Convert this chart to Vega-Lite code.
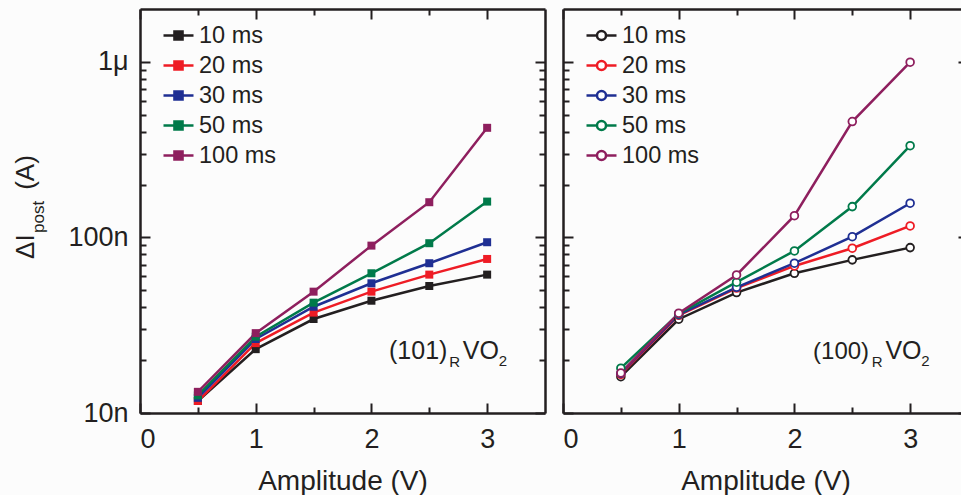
{
  "$schema": "https://vega.github.io/schema/vega-lite/v6.json",
  "background": "#fcfcfc",
  "padding": {"left": 13, "top": 8, "right": 0, "bottom": 0},
  "datasets": {
    "vo2_101": [
      {"pulse": "10 ms", "amp": 0.5, "current": 1.17e-8},
      {"pulse": "10 ms", "amp": 1.0, "current": 2.31e-8},
      {"pulse": "10 ms", "amp": 1.5, "current": 3.43e-8},
      {"pulse": "10 ms", "amp": 2.0, "current": 4.36e-8},
      {"pulse": "10 ms", "amp": 2.5, "current": 5.29e-8},
      {"pulse": "10 ms", "amp": 3.0, "current": 6.14e-8},
      {"pulse": "20 ms", "amp": 0.5, "current": 1.17e-8},
      {"pulse": "20 ms", "amp": 1.0, "current": 2.50e-8},
      {"pulse": "20 ms", "amp": 1.5, "current": 3.73e-8},
      {"pulse": "20 ms", "amp": 2.0, "current": 4.91e-8},
      {"pulse": "20 ms", "amp": 2.5, "current": 6.14e-8},
      {"pulse": "20 ms", "amp": 3.0, "current": 7.54e-8},
      {"pulse": "30 ms", "amp": 0.5, "current": 1.22e-8},
      {"pulse": "30 ms", "amp": 1.0, "current": 2.64e-8},
      {"pulse": "30 ms", "amp": 1.5, "current": 4.03e-8},
      {"pulse": "30 ms", "amp": 2.0, "current": 5.48e-8},
      {"pulse": "30 ms", "amp": 2.5, "current": 7.13e-8},
      {"pulse": "30 ms", "amp": 3.0, "current": 9.39e-8},
      {"pulse": "50 ms", "amp": 0.5, "current": 1.26e-8},
      {"pulse": "50 ms", "amp": 1.0, "current": 2.72e-8},
      {"pulse": "50 ms", "amp": 1.5, "current": 4.25e-8},
      {"pulse": "50 ms", "amp": 2.0, "current": 6.25e-8},
      {"pulse": "50 ms", "amp": 2.5, "current": 9.27e-8},
      {"pulse": "50 ms", "amp": 3.0, "current": 1.60e-7},
      {"pulse": "100 ms", "amp": 0.5, "current": 1.32e-8},
      {"pulse": "100 ms", "amp": 1.0, "current": 2.85e-8},
      {"pulse": "100 ms", "amp": 1.5, "current": 4.91e-8},
      {"pulse": "100 ms", "amp": 2.0, "current": 8.98e-8},
      {"pulse": "100 ms", "amp": 2.5, "current": 1.587e-7},
      {"pulse": "100 ms", "amp": 3.0, "current": 4.21e-7}
    ],
    "vo2_100": [
      {"pulse": "10 ms", "amp": 0.5, "current": 1.61e-8},
      {"pulse": "10 ms", "amp": 1.0, "current": 3.42e-8},
      {"pulse": "10 ms", "amp": 1.5, "current": 4.85e-8},
      {"pulse": "10 ms", "amp": 2.0, "current": 6.25e-8},
      {"pulse": "10 ms", "amp": 2.5, "current": 7.45e-8},
      {"pulse": "10 ms", "amp": 3.0, "current": 8.75e-8},
      {"pulse": "20 ms", "amp": 0.5, "current": 1.66e-8},
      {"pulse": "20 ms", "amp": 1.0, "current": 3.60e-8},
      {"pulse": "20 ms", "amp": 1.5, "current": 5.15e-8},
      {"pulse": "20 ms", "amp": 2.0, "current": 6.88e-8},
      {"pulse": "20 ms", "amp": 2.5, "current": 8.68e-8},
      {"pulse": "20 ms", "amp": 3.0, "current": 1.163e-7},
      {"pulse": "30 ms", "amp": 0.5, "current": 1.68e-8},
      {"pulse": "30 ms", "amp": 1.0, "current": 3.63e-8},
      {"pulse": "30 ms", "amp": 1.5, "current": 5.20e-8},
      {"pulse": "30 ms", "amp": 2.0, "current": 7.13e-8},
      {"pulse": "30 ms", "amp": 2.5, "current": 1.01e-7},
      {"pulse": "30 ms", "amp": 3.0, "current": 1.566e-7},
      {"pulse": "50 ms", "amp": 0.5, "current": 1.80e-8},
      {"pulse": "50 ms", "amp": 1.0, "current": 3.68e-8},
      {"pulse": "50 ms", "amp": 1.5, "current": 5.56e-8},
      {"pulse": "50 ms", "amp": 2.0, "current": 8.38e-8},
      {"pulse": "50 ms", "amp": 2.5, "current": 1.498e-7},
      {"pulse": "50 ms", "amp": 3.0, "current": 3.33e-7},
      {"pulse": "100 ms", "amp": 0.5, "current": 1.69e-8},
      {"pulse": "100 ms", "amp": 1.0, "current": 3.70e-8},
      {"pulse": "100 ms", "amp": 1.5, "current": 6.11e-8},
      {"pulse": "100 ms", "amp": 2.0, "current": 1.33e-7},
      {"pulse": "100 ms", "amp": 2.5, "current": 4.57e-7},
      {"pulse": "100 ms", "amp": 3.0, "current": 9.96e-7}
    ],
    "single": [{}]
  },
  "config": {
    "view": {"stroke": null},
    "font": "Liberation Sans",
    "axis": {
      "grid": false,
      "domainColor": "#231f20",
      "domainWidth": 2.5,
      "tickColor": "#231f20",
      "tickWidth": 2,
      "labelFont": "Liberation Sans",
      "labelFontSize": 27,
      "labelColor": "#231f20",
      "titleFont": "Liberation Sans",
      "titleFontSize": 28,
      "titleFontWeight": "normal",
      "titleColor": "#231f20"
    },
    "legend": {
      "orient": "none",
      "legendX": 22,
      "legendY": 10,
      "title": null,
      "symbolSize": 900,
      "symbolStrokeWidth": 2.5,
      "labelFont": "Liberation Sans",
      "labelFontSize": 23.5,
      "labelColor": "#231f20",
      "labelOffset": 4,
      "rowPadding": 2
    },
    "text": {"font": "Liberation Sans", "color": "#231f20"}
  },
  "resolve": {"scale": {"color": "shared"}, "legend": {"color": "independent"}},
  "spacing": 18,
  "bounds": "flush",
  "hconcat": [
    {
      "width": 405,
      "height": 404,
      "data": {"name": "vo2_101"},
      "resolve": {"axis": {"x": "independent", "y": "independent"}},
      "layer": [
        {
          "mark": {"type": "line", "strokeWidth": 2.5},
          "encoding": {
            "x": {
              "field": "amp", "type": "quantitative",
              "scale": {"domain": [0, 3.5], "nice": false, "zero": false},
              "axis": {"orient": "bottom", "title": "Amplitude (V)", "values": [0, 1, 2, 3], "format": "d", "tickSize": -10, "labelPadding": 23, "titlePadding": 15}
            },
            "y": {
              "field": "current", "type": "quantitative",
              "scale": {"type": "log", "domain": [1e-8, 2e-6], "nice": false},
              "axis": {
                "orient": "left", "title": null, "values": [1e-8, 1e-7, 1e-6],
                "labelExpr": "datum.value == 1e-6 ? '1μ' : datum.value == 1e-7 ? '100n' : '10n'",
                "tickSize": -10, "labelPadding": 22
              }
            },
            "color": {
              "field": "pulse", "type": "nominal",
              "scale": {"domain": ["10 ms", "20 ms", "30 ms", "50 ms", "100 ms"], "range": ["#231f20", "#ee1c25", "#1f2f93", "#007a4a", "#8e1f5e"]},
              "legend": {
                "symbolType": "M-1,0H1M-0.27,-0.27H0.27V0.27H-0.27Z",
                "encode": {"symbols": {"update": {"fill": {"scale": "color", "field": "value"}, "stroke": {"scale": "color", "field": "value"}, "opacity": {"value": 1}}}}
              }
            }
          }
        },
        {
          "mark": {"type": "point", "shape": "square", "filled": true, "size": 64, "opacity": 1},
          "encoding": {
            "x": {
              "field": "amp", "type": "quantitative",
              "scale": {"domain": [0, 3.5], "nice": false, "zero": false},
              "axis": {"orient": "top", "title": null, "labels": false, "values": [0, 1, 2, 3], "tickSize": -10}
            },
            "y": {
              "field": "current", "type": "quantitative",
              "scale": {"type": "log", "domain": [1e-8, 2e-6], "nice": false},
              "axis": {"orient": "right", "title": null, "labels": false, "values": [1e-8, 1e-7, 1e-6], "tickSize": -10}
            },
            "color": {"field": "pulse", "type": "nominal", "legend": null}
          }
        },
        {
          "data": {"name": "single"},
          "mark": {"type": "text", "text": "ΔI", "fontSize": 26, "angle": 270, "align": "left", "baseline": "alphabetic"},
          "encoding": {
            "x": {"datum": -0.916, "axis": null, "scale": {"domain": [0, 3.5], "nice": false, "zero": false}},
            "y": {"datum": 7.54e-8, "axis": null, "scale": {"type": "log", "domain": [1e-8, 2e-6], "nice": false}}
          }
        },
        {
          "data": {"name": "single"},
          "mark": {"type": "text", "text": "post", "fontSize": 17, "angle": 270, "align": "left", "baseline": "alphabetic"},
          "encoding": {
            "x": {"datum": -0.83, "axis": null, "scale": {"domain": [0, 3.5], "nice": false, "zero": false}},
            "y": {"datum": 1.061e-7, "axis": null, "scale": {"type": "log", "domain": [1e-8, 2e-6], "nice": false}}
          }
        },
        {
          "data": {"name": "single"},
          "mark": {"type": "text", "text": "(A)", "fontSize": 26, "angle": 270, "align": "left", "baseline": "alphabetic"},
          "encoding": {
            "x": {"datum": -0.916, "axis": null, "scale": {"domain": [0, 3.5], "nice": false, "zero": false}},
            "y": {"datum": 1.866e-7, "axis": null, "scale": {"type": "log", "domain": [1e-8, 2e-6], "nice": false}}
          }
        },
        {
          "data": {"name": "single"},
          "mark": {"type": "text", "text": "(101)", "fontSize": 25, "align": "left", "baseline": "alphabetic"},
          "encoding": {
            "x": {
              "datum": 2.152, "scale": {"domain": [0, 3.5], "nice": false, "zero": false},
              "axis": {"orient": "bottom", "title": null, "labels": false, "domain": false, "values": [0.5, 1.5, 2.5], "tickSize": -6}
            },
            "y": {
              "datum": 2.031e-8, "scale": {"type": "log", "domain": [1e-8, 2e-6], "nice": false},
              "axis": {"orient": "left", "title": null, "labels": false, "domain": false, "values": [2e-8, 3e-8, 4e-8, 5e-8, 6e-8, 7e-8, 8e-8, 9e-8, 2e-7, 3e-7, 4e-7, 5e-7, 6e-7, 7e-7, 8e-7, 9e-7], "tickSize": -6}
            }
          }
        },
        {
          "data": {"name": "single"},
          "mark": {"type": "text", "text": "R", "fontSize": 15, "align": "left", "baseline": "alphabetic"},
          "encoding": {
            "x": {"datum": 2.672, "axis": null, "scale": {"domain": [0, 3.5], "nice": false, "zero": false}},
            "y": {"datum": 1.829e-8, "axis": null, "scale": {"type": "log", "domain": [1e-8, 2e-6], "nice": false}}
          }
        },
        {
          "data": {"name": "single"},
          "mark": {"type": "text", "text": "VO", "fontSize": 25, "align": "left", "baseline": "alphabetic"},
          "encoding": {
            "x": {
              "datum": 2.79, "scale": {"domain": [0, 3.5], "nice": false, "zero": false},
              "axis": {"orient": "top", "title": null, "labels": false, "domain": false, "values": [0.5, 1.5, 2.5], "tickSize": -6}
            },
            "y": {
              "datum": 2.031e-8, "scale": {"type": "log", "domain": [1e-8, 2e-6], "nice": false},
              "axis": {"orient": "right", "title": null, "labels": false, "domain": false, "values": [2e-8, 3e-8, 4e-8, 5e-8, 6e-8, 7e-8, 8e-8, 9e-8, 2e-7, 3e-7, 4e-7, 5e-7, 6e-7, 7e-7, 8e-7, 9e-7], "tickSize": -6}
            }
          }
        },
        {
          "data": {"name": "single"},
          "mark": {"type": "text", "text": "2", "fontSize": 15, "align": "left", "baseline": "alphabetic"},
          "encoding": {
            "x": {"datum": 3.1, "axis": null, "scale": {"domain": [0, 3.5], "nice": false, "zero": false}},
            "y": {"datum": 1.853e-8, "axis": null, "scale": {"type": "log", "domain": [1e-8, 2e-6], "nice": false}}
          }
        }
      ]
    },
    {
      "width": 405,
      "height": 404,
      "data": {"name": "vo2_100"},
      "resolve": {"axis": {"x": "independent", "y": "independent"}},
      "layer": [
        {
          "mark": {"type": "line", "strokeWidth": 2.5},
          "encoding": {
            "x": {
              "field": "amp", "type": "quantitative",
              "scale": {"domain": [0, 3.5], "nice": false, "zero": false},
              "axis": {"orient": "bottom", "title": "Amplitude (V)", "values": [0, 1, 2, 3], "format": "d", "tickSize": -10, "labelPadding": 23, "titlePadding": 15}
            },
            "y": {
              "field": "current", "type": "quantitative",
              "scale": {"type": "log", "domain": [1e-8, 2e-6], "nice": false},
              "axis": {"orient": "left", "title": null, "labels": false, "values": [1e-8, 1e-7, 1e-6], "tickSize": -10}
            },
            "color": {
              "field": "pulse", "type": "nominal",
              "scale": {"domain": ["10 ms", "20 ms", "30 ms", "50 ms", "100 ms"], "range": ["#231f20", "#ee1c25", "#1f2f93", "#007a4a", "#8e1f5e"]},
              "legend": {
                "symbolType": "M-1,0H-0.3M0.3,0H1M0.3,0A0.3,0.3 0 1,1 -0.3,0A0.3,0.3 0 1,1 0.3,0Z",
                "encode": {"symbols": {"update": {"fill": {"value": "#ffffff"}, "stroke": {"scale": "color", "field": "value"}, "opacity": {"value": 1}}}}
              }
            }
          }
        },
        {
          "mark": {"type": "point", "shape": "circle", "filled": false, "fill": "#ffffff", "fillOpacity": 1, "size": 60, "strokeWidth": 1.8, "opacity": 1},
          "encoding": {
            "x": {
              "field": "amp", "type": "quantitative",
              "scale": {"domain": [0, 3.5], "nice": false, "zero": false},
              "axis": {"orient": "top", "title": null, "labels": false, "values": [0, 1, 2, 3], "tickSize": -10}
            },
            "y": {
              "field": "current", "type": "quantitative",
              "scale": {"type": "log", "domain": [1e-8, 2e-6], "nice": false},
              "axis": {"orient": "right", "title": null, "labels": false, "values": [1e-8, 1e-7, 1e-6], "tickSize": -10}
            },
            "color": {"field": "pulse", "type": "nominal", "legend": null}
          }
        },
        {
          "data": {"name": "single"},
          "mark": {"type": "text", "text": "(100)", "fontSize": 24, "align": "left", "baseline": "alphabetic"},
          "encoding": {
            "x": {
              "datum": 2.161, "scale": {"domain": [0, 3.5], "nice": false, "zero": false},
              "axis": {"orient": "bottom", "title": null, "labels": false, "domain": false, "values": [0.5, 1.5, 2.5], "tickSize": -6}
            },
            "y": {
              "datum": 2.031e-8, "scale": {"type": "log", "domain": [1e-8, 2e-6], "nice": false},
              "axis": {"orient": "left", "title": null, "labels": false, "domain": false, "values": [2e-8, 3e-8, 4e-8, 5e-8, 6e-8, 7e-8, 8e-8, 9e-8, 2e-7, 3e-7, 4e-7, 5e-7, 6e-7, 7e-7, 8e-7, 9e-7], "tickSize": -6}
            }
          }
        },
        {
          "data": {"name": "single"},
          "mark": {"type": "text", "text": "R", "fontSize": 15, "align": "left", "baseline": "alphabetic"},
          "encoding": {
            "x": {"datum": 2.668, "axis": null, "scale": {"domain": [0, 3.5], "nice": false, "zero": false}},
            "y": {"datum": 1.829e-8, "axis": null, "scale": {"type": "log", "domain": [1e-8, 2e-6], "nice": false}}
          }
        },
        {
          "data": {"name": "single"},
          "mark": {"type": "text", "text": "VO", "fontSize": 25, "align": "left", "baseline": "alphabetic"},
          "encoding": {
            "x": {
              "datum": 2.786, "scale": {"domain": [0, 3.5], "nice": false, "zero": false},
              "axis": {"orient": "top", "title": null, "labels": false, "domain": false, "values": [0.5, 1.5, 2.5], "tickSize": -6}
            },
            "y": {
              "datum": 2.031e-8, "scale": {"type": "log", "domain": [1e-8, 2e-6], "nice": false},
              "axis": {"orient": "right", "title": null, "labels": false, "domain": false, "values": [2e-8, 3e-8, 4e-8, 5e-8, 6e-8, 7e-8, 8e-8, 9e-8, 2e-7, 3e-7, 4e-7, 5e-7, 6e-7, 7e-7, 8e-7, 9e-7], "tickSize": -6}
            }
          }
        },
        {
          "data": {"name": "single"},
          "mark": {"type": "text", "text": "2", "fontSize": 15, "align": "left", "baseline": "alphabetic"},
          "encoding": {
            "x": {"datum": 3.096, "axis": null, "scale": {"domain": [0, 3.5], "nice": false, "zero": false}},
            "y": {"datum": 1.853e-8, "axis": null, "scale": {"type": "log", "domain": [1e-8, 2e-6], "nice": false}}
          }
        }
      ]
    }
  ]
}
